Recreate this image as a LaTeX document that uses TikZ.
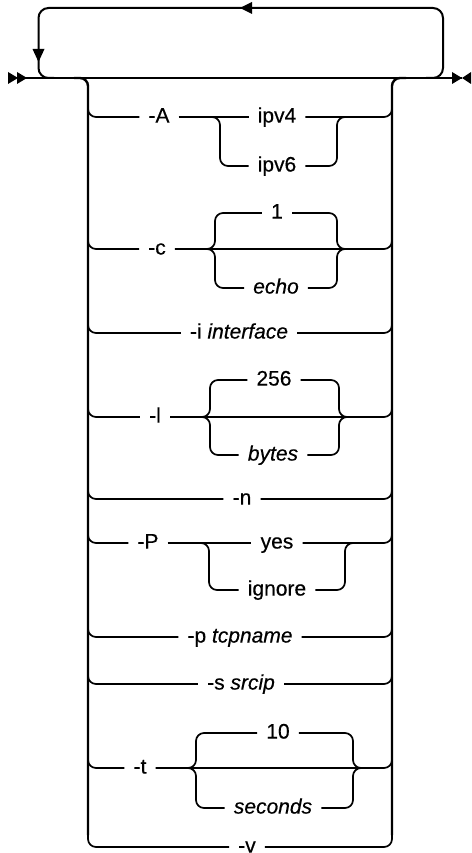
\documentclass[tikz,border=0pt]{standalone}
\usepackage{fontspec}
\setmainfont{Liberation Sans}[FakeBold=0.4]
\begin{document}
\fontsize{21}{24}\selectfont
\begin{tikzpicture}[x=1pt,y=-1pt,
  lbl/.style={anchor=mid, inner xsep=9pt, inner ysep=0pt, font=\fontsize{21}{24}\selectfont},
  it/.style={lbl, font=\fontsize{21}{24}\selectfont\itshape},
  rowline/.style={line width=1.7pt, rounded corners=8pt},
  rail/.style={line width=2.4pt, rounded corners=8pt},
  mainline/.style={line width=2pt},
  loopline/.style={line width=2pt, rounded corners=10pt},
  tipfill/.style={fill=black, draw=none}
]
\useasboundingbox (0,0) rectangle (471,853);
\clip (0,0) rectangle (471,853);

% start / end markers and main line
\coordinate (mstart) at (18,78);
\coordinate (mend) at (462,78);
\fill[tipfill] (8,72) -- (18,78) -- (8,84) -- cycle;
\fill[tipfill] (17,72) -- (27,78) -- (17,84) -- cycle;
\fill[tipfill] (452,72) -- (462,78) -- (452,84) -- cycle;
\fill[tipfill] (471,72) -- (462,78) -- (471,84) -- cycle;
\draw[mainline] (mstart) -- (mend);

% repeat loop
\draw[loopline] (426,78) -| (443,8) -| (38.5,78) -- (54,78);
\fill[tipfill] (240,8) -- (252,2) -- (252,14) -- cycle;
\fill[tipfill] (38.5,62) -- (32.5,49) -- (44.5,49) -- cycle;

% rails
\draw[rail] (74,78) -| (88,835);
\draw[rail] (392,835) |- (406,78);

% row -A
\node[lbl] (A) at (159,117) {-A};
\node[lbl] (ipv4) at (277,117) {ipv4};
\node[lbl] (ipv6) at (277,166) {ipv6};
\draw[rowline] (88,100) |- (A.mid west);
\draw[rowline] (A.mid east) -- (ipv4.mid west);
\draw[rowline] (ipv4.mid east) -| (392,100);
\draw[rowline] (206,117) -| (220,166) -- (ipv6.mid west);
\draw[rowline] (ipv6.mid east) -| (337,117) -- (350,117);

% row -c
\node[lbl] (c) at (157,249) {-c};
\node[lbl] (one) at (277,213) {1};
\node[it] (echo) at (276,288) {echo};
\draw[rowline] (88,232) |- (c.mid west);
\draw[rowline] (c.mid east) -| (392,232);
\draw[rowline] (207,249) -| (215,213) -- (one.mid west);
\draw[rowline] (207,249) -| (215,288) -- (echo.mid west);
\draw[rowline] (one.mid east) -| (337,249) -- (345,249);
\draw[rowline] (echo.mid east) -| (337,249) -- (345,249);

% row -i
\node[lbl] (i) at (239,333) {-i \textit{interface}};
\draw[rowline] (88,316) |- (i.mid west);
\draw[rowline] (i.mid east) -| (392,316);

% row -l
\node[lbl] (l) at (155,417) {-l};
\node[lbl] (n256) at (274,380) {256};
\node[it] (bytes) at (273,455) {bytes};
\draw[rowline] (88,400) |- (l.mid west);
\draw[rowline] (l.mid east) -| (392,400);
\draw[rowline] (202,417) -| (210,380) -- (n256.mid west);
\draw[rowline] (202,417) -| (210,455) -- (bytes.mid west);
\draw[rowline] (n256.mid east) -| (339,417) -- (347,417);
\draw[rowline] (bytes.mid east) -| (339,417) -- (347,417);

% row -n
\node[lbl] (n) at (242,499) {-n};
\draw[rowline] (88,482) |- (n.mid west);
\draw[rowline] (n.mid east) -| (392,482);

% row -P
\node[lbl] (P) at (148,543) {-P};
\node[lbl] (yes) at (277,543) {yes};
\node[lbl] (ignore) at (277,590) {ignore};
\draw[rowline] (88,526) |- (P.mid west);
\draw[rowline] (P.mid east) -- (yes.mid west);
\draw[rowline] (yes.mid east) -| (392,526);
\draw[rowline] (196,543) -| (209,590) -- (ignore.mid west);
\draw[rowline] (ignore.mid east) -| (345,543) -- (358,543);

% row -p
\node[lbl] (p) at (240,637) {-p \textit{tcpname}};
\draw[rowline] (88,620) |- (p.mid west);
\draw[rowline] (p.mid east) -| (392,620);

% row -s
\node[lbl] (s) at (241,684) {-s \textit{srcip}};
\draw[rowline] (88,667) |- (s.mid west);
\draw[rowline] (s.mid east) -| (392,667);

% row -t
\node[lbl] (t) at (140,768) {-t};
\node[lbl] (ten) at (278,733) {10};
\node[it] (seconds) at (273,808) {seconds};
\draw[rowline] (88,751) |- (t.mid west);
\draw[rowline] (t.mid east) -| (392,751);
\draw[rowline] (189,768) -| (196,733) -- (ten.mid west);
\draw[rowline] (189,768) -| (196,808) -- (seconds.mid west);
\draw[rowline] (ten.mid east) -| (353,768) -- (360,768);
\draw[rowline] (seconds.mid east) -| (353,768) -- (360,768);

% row -v
\node[lbl] (v) at (247,847) {-v};
\draw[rowline] (88,820) |- (v.mid west);
\draw[rowline] (v.mid east) -| (392,820);
\end{tikzpicture}
\end{document}
